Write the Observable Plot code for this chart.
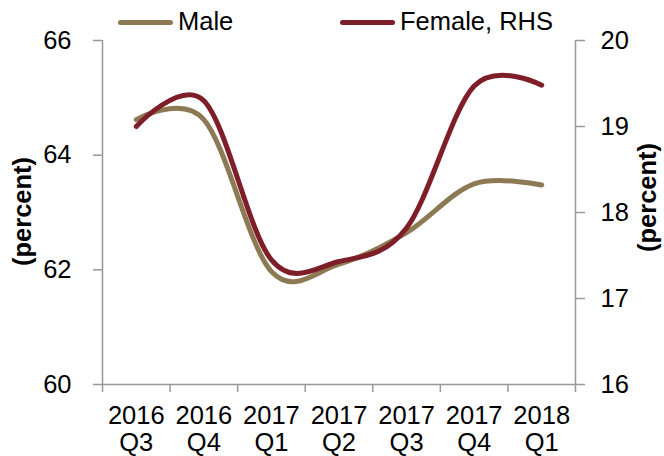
<!DOCTYPE html>
<html>
<head>
<meta charset="utf-8">
<script src="https://cdn.jsdelivr.net/npm/d3@7"></script>
<script src="https://cdn.jsdelivr.net/npm/@observablehq/plot@0.6"></script>
<style>
  html, body { margin: 0; padding: 0; background: white; }
  #wrap { position: relative; width: 664px; height: 456px; font-family: "Liberation Sans", Arial, sans-serif; }
  .leg { position: absolute; top: 0; height: 44px; display: flex; align-items: center; font-size: 25.5px; line-height: 1; color: #000; }
  .sw { width: 55px; height: 5px; border-radius: 3px; margin-right: 5px; }
</style>
</head>
<body>
<div id="wrap">
  <div class="leg" style="left:118px"><div class="sw" id="swM"></div><span>Male</span></div>
  <div class="leg" style="left:340px"><div class="sw" id="swF"></div><span>Female, RHS</span></div>
</div>
<script>
const categories = ["2016\nQ3", "2016\nQ4", "2017\nQ1", "2017\nQ2", "2017\nQ3", "2017\nQ4", "2018\nQ1"];
const male = [64.62, 64.62, 61.97, 62.1, 62.65, 63.5, 63.48];
const female = [19.0, 19.3, 17.45, 17.43, 17.82, 19.47, 19.48];
const leftTicks = [60, 62, 64, 66];
const rightTicks = [16, 17, 18, 19, 20];

const maleColor = "#8d7a55";
const femaleColor = "#7e1e28";
const axisColor = "#999999";
const fs = 25.5;

// right axis (16..20) mapped onto left axis (60..66)
const toLeft = v => 60 + (v - 16) * 1.5;
const fromLeft = v => (v - 60) / 1.5 + 16;

document.getElementById("swM").style.background = maleColor;
document.getElementById("swF").style.background = femaleColor;

const boundaries = d3.range(categories.length + 1).map(i => i - 0.5);

const chart = Plot.plot({
  width: 664,
  height: 456,
  marginLeft: 102,
  marginRight: 89,
  marginTop: 40,
  marginBottom: 72,
  style: { fontFamily: "Liberation Sans, Arial, sans-serif", fontSize: fs + "px", background: "transparent", color: "black", overflow: "visible" },
  x: { type: "linear", domain: [-0.5, categories.length - 0.5] },
  y: { domain: [60, 66] },
  marks: [
    Plot.ruleY([60], { stroke: axisColor, strokeWidth: 1.5 }),
    Plot.ruleX([boundaries[0], boundaries[boundaries.length - 1]], { stroke: axisColor, strokeWidth: 1.5 }),
    Plot.axisY({ anchor: "left", ticks: leftTicks, tickFormat: d => String(d), tickSize: 9, tickPadding: 22, stroke: axisColor, strokeWidth: 1.5, fill: "black", fontSize: fs, label: null }),
    Plot.axisY({ anchor: "right", ticks: rightTicks.map(toLeft), tickFormat: d => String(Math.round(fromLeft(d))), tickSize: 9, tickPadding: 16, stroke: axisColor, strokeWidth: 1.5, fill: "black", fontSize: fs, label: null }),
    Plot.axisX({ ticks: boundaries, tickSize: 8, tickFormat: () => "", stroke: axisColor, strokeWidth: 1.5, label: null }),
    Plot.axisX({ ticks: d3.range(categories.length), tickSize: 0, tickPadding: 20, tickFormat: i => categories[i], fill: "black", fontSize: fs, lineHeight: 1.06, label: null }),
    Plot.text(["(percent)"], { frameAnchor: "left", text: d => d, rotate: -90, textAnchor: "middle", dx: -80, dy: -1, fontWeight: "bold", fontSize: fs, fill: "black" }),
    Plot.text(["(percent)"], { frameAnchor: "right", text: d => d, rotate: -90, textAnchor: "middle", dx: 72, dy: -15, fontWeight: "bold", fontSize: fs, fill: "black" }),
    Plot.line(male, { x: (d, i) => i, y: d => d, curve: "cardinal", tension: 0, stroke: maleColor, strokeWidth: 5, strokeLinecap: "round", strokeLinejoin: "round" }),
    Plot.line(female, { x: (d, i) => i, y: d => toLeft(d), curve: "cardinal", tension: 0, stroke: femaleColor, strokeWidth: 5, strokeLinecap: "round", strokeLinejoin: "round" })
  ]
});
chart.style.position = "absolute";
chart.style.left = "0";
chart.style.top = "0";
document.getElementById("wrap").prepend(chart);
</script>
</body>
</html>
